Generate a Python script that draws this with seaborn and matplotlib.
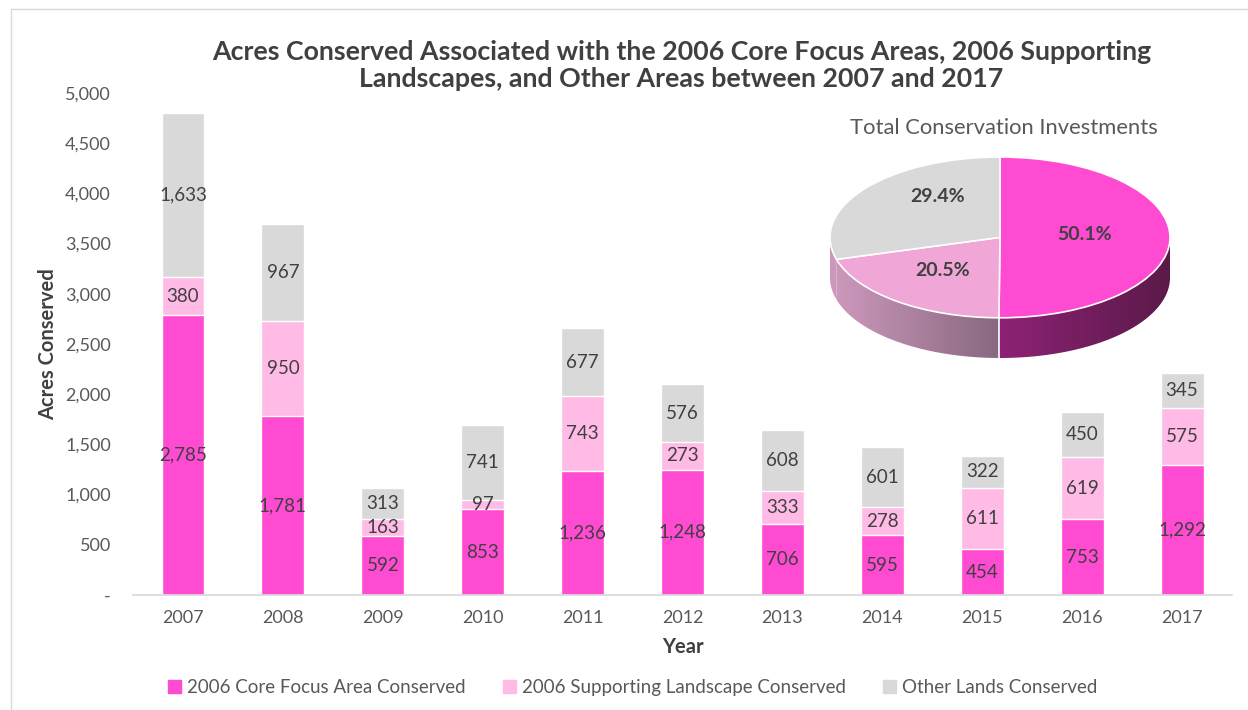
import matplotlib
matplotlib.use("Agg")
import matplotlib.pyplot as plt
from matplotlib.lines import Line2D
from matplotlib.patches import Patch, Polygon
from matplotlib.colors import LinearSegmentedColormap
import numpy as np
import pandas as pd
import seaborn as sns

# data
years = ["2007", "2008", "2009", "2010", "2011", "2012", "2013", "2014", "2015", "2016", "2017"]
core = [2785, 1781, 592, 853, 1236, 1248, 706, 595, 454, 753, 1292]
supporting = [380, 950, 163, 97, 743, 273, 333, 278, 611, 619, 575]
other = [1633, 967, 313, 741, 677, 576, 608, 601, 322, 450, 345]

pie_labels = ["2006 Core Focus Area", "2006 Supporting Landscape", "Other Lands"]
pie_share = [50.1, 20.5, 29.4]

c_core = "#FF4AD2"
c_supp = "#FFBBE6"
c_other = "#D9D9D9"
txt = "#404040"
tick_col = "#595959"

sns.set_theme(style="white")
plt.rcParams["font.family"] = ["Lato", "DejaVu Sans"]

df = pd.DataFrame({"Year": years, "core": core, "supp": supporting, "other": other})
df["lvl2"] = df["core"] + df["supp"]
df["total"] = df["lvl2"] + df["other"]

fig = plt.figure(figsize=(12.48, 7.10), dpi=100)
ax = fig.add_axes([0.1066, 0.162, 0.8806, 0.707])

# stacked bars: draw cumulative totals back to front
sns.barplot(data=df, x="Year", y="total", color=c_other, width=0.43, ax=ax, saturation=1)
sns.barplot(data=df, x="Year", y="lvl2", color=c_supp, width=0.43, ax=ax, saturation=1)
sns.barplot(data=df, x="Year", y="core", color=c_core, width=0.43, ax=ax, saturation=1)

for i, r in df.iterrows():
    for lo, val in [(0, r["core"]), (r["core"], r["supp"]), (r["lvl2"], r["other"])]:
        ax.text(i, lo + val / 2, f"{val:,}", ha="center", va="center",
                fontsize=13.5, color=txt)

ax.set_ylim(0, 5000)
ax.set_xlim(-0.5, len(years) - 0.5)
ax.set_yticks(range(0, 5001, 500))
ax.set_yticklabels(["-"] + [f"{v:,}" for v in range(500, 5001, 500)])
ax.tick_params(axis="y", colors=tick_col, labelsize=13, length=0, pad=16)
ax.tick_params(axis="x", colors=tick_col, labelsize=13, length=0, pad=11)
for s in ["top", "right", "left"]:
    ax.spines[s].set_visible(False)
ax.spines["bottom"].set_color("#D9D9D9")
ax.set_xlabel("Year", fontsize=14.5, fontweight="bold", color=txt, labelpad=8)
ax.set_ylabel("Acres Conserved", fontsize=14.5, fontweight="bold", color=txt, labelpad=5)

fig.text(0.546, 0.908, "Acres Conserved Associated with the 2006 Core Focus Areas, 2006 Supporting\n"
         "Landscapes, and Other Areas between 2007 and 2017",
         ha="center", va="center", fontsize=19.3, fontweight="bold", color=txt, linespacing=1.12)

# legend
handles = [Patch(color=c_core), Patch(color=c_supp), Patch(color=c_other)]
names = ["2006 Core Focus Area Conserved", "2006 Supporting Landscape Conserved", "Other Lands Conserved"]
fig.legend(handles, names, loc="center", bbox_to_anchor=(0.507, 0.031), ncol=3, frameon=False,
           fontsize=13.5, labelcolor=tick_col, handlelength=0.7, handleheight=0.7,
           handletextpad=0.3, columnspacing=2.0)

# pseudo-3D pie: gradient side walls + flat pie on top
pax = fig.add_axes([830 / 1248, 1 - 358 / 710, 340 / 1248, 201 / 710])
depth = 0.5
side_grad = [("#8E2276", "#5A1A48"), ("#CC98BC", "#88687F"), ("#CC98BC", "#CC98BC")]
top_cols = [c_core, "#F0A6D6", c_other]
grad = np.linspace(0, 1, 256).reshape(1, -1)
a_start = 90.0
bounds = []
for share, (g1, g2) in zip(pie_share, side_grad):
    a_end = a_start - share * 3.6
    lo, hi = max(a_end, -180.0), min(a_start, 0.0)
    if hi > lo:
        t = np.deg2rad(np.linspace(lo, hi, 120))
        xs, ys = np.cos(t), np.sin(t)
        poly = Polygon(np.vstack([np.c_[xs, ys], np.c_[xs[::-1], ys[::-1] - depth]]),
                       closed=True, facecolor="none", edgecolor="none")
        pax.add_patch(poly)
        im = pax.imshow(grad, cmap=LinearSegmentedColormap.from_list("", [g1, g2]),
                        extent=[xs.min(), xs.max(), ys.min() - depth, ys.max()],
                        aspect="auto", zorder=0)
        im.set_clip_path(poly)
        bounds.append(np.deg2rad(a_end))
    a_start = a_end
for b in bounds[:1]:
    if -np.pi < b < 0:
        pax.plot([np.cos(b)] * 2, [np.sin(b), np.sin(b) - depth], color="white", lw=1.2, zorder=0.5)
pax.pie(pie_share, colors=top_cols, startangle=90, counterclock=False,
        center=(0, 0), radius=1.0, frame=True,
        wedgeprops=dict(linewidth=1.2, edgecolor="white"))
pax.set_xlim(-1.0, 1.0)
pax.set_ylim(-1.5, 1.0)
pax.set_aspect("auto")
pax.axis("off")
label_pos = [(0.50, 0.03), (-0.34, -0.41), (-0.365, 0.51)]
for share, (lx, ly) in zip(pie_share, label_pos):
    pax.text(lx, ly, f"{share}%", ha="center", va="center",
             fontsize=14, fontweight="bold", color=txt)
fig.text(1004 / 1248, 1 - 128 / 710, "Total Conservation Investments", ha="center", va="center",
         fontsize=15.8, color=tick_col)

# thin frame on top and left
fig.add_artist(Line2D([11 / 1248, 11 / 1248], [0, 1 - 9 / 710], color="#D9D9D9", lw=1))
fig.add_artist(Line2D([11 / 1248, 1], [1 - 9 / 710, 1 - 9 / 710], color="#D9D9D9", lw=1))

fig.savefig("out.png", dpi=100)
